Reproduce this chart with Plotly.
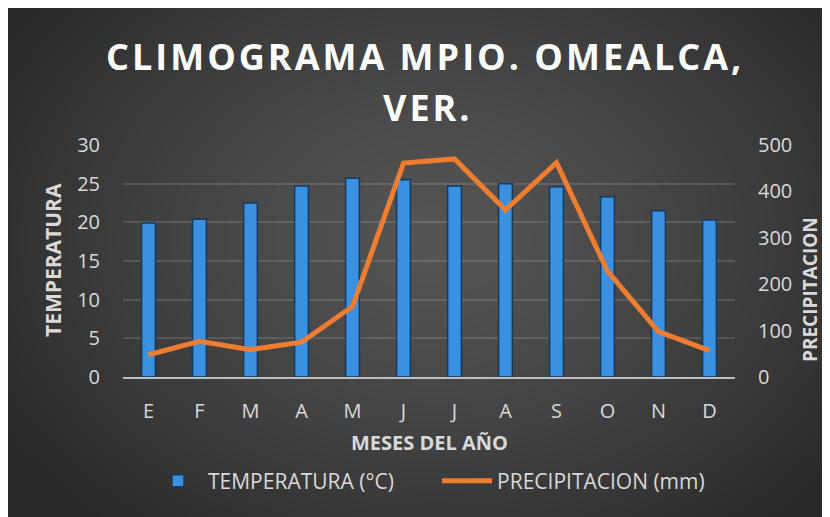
import base64, struct, zlib
import numpy as np
import plotly.graph_objects as go

meses = ["E", "F", "M", "A", "M", "J", "J", "A", "S", "O", "N", "D"]
temperatura = [19.9, 20.4, 22.5, 24.7, 25.7, 25.5, 24.7, 25.0, 24.6, 23.3, 21.5, 20.3]
precipitacion = [48, 77, 59, 75, 152, 461, 470, 360, 462, 228, 98, 57]
temp_ticks = [0, 5, 10, 15, 20, 25, 30]
prec_ticks = [0, 100, 200, 300, 400, 500]

# page has an 8px body margin; work in page coords and convert
OFF = 8
W, H = 830 - OFF, 517 - OFF
L, R, T, B = 123 - OFF, 735 - OFF, 145 - OFF, 377 - OFF


def gradient_png(w, h):
    ys, xs = np.mgrid[0:h, 0:w].astype(float)
    cx, cy = w * 0.52, h * 0.45
    r = np.sqrt(((xs - cx) / (w * 0.62)) ** 2 + ((ys - cy) / (h * 0.75)) ** 2)
    r = np.clip(r, 0, 1)
    v = 0x55 + (0x29 - 0x55) * r ** 1.3
    arr = np.stack([v, v, v], axis=-1).astype(np.uint8)
    raw = b"".join(b"\x00" + arr[i].tobytes() for i in range(h))

    def chunk(t, d):
        c = struct.pack(">I", len(d)) + t + d
        return c + struct.pack(">I", zlib.crc32(t + d) & 0xFFFFFFFF)

    png = b"\x89PNG\r\n\x1a\n" + chunk(b"IHDR", struct.pack(">IIBBBBB", w, h, 8, 2, 0, 0, 0))
    png += chunk(b"IDAT", zlib.compress(raw, 9)) + chunk(b"IEND", b"")
    return "data:image/png;base64," + base64.b64encode(png).decode()


pw, ph = R - L, B - T
img = gradient_png(411, 256)


def px(xpage):
    return (xpage - OFF - L) / pw


def py(ypage):
    return (B - (ypage - OFF)) / ph


NB = "\u00a0"
fig = go.Figure()
fig.add_trace(go.Bar(
    x=list(range(12)), y=temperatura, name="TEMPERATURA (°C)" + NB * 7,
    width=0.27,
    marker=dict(color="#3c90e0", line=dict(color="#153a60", width=1.5)),
    yaxis="y",
))
fig.add_trace(go.Scatter(
    x=list(range(12)), y=precipitacion, name="PRECIPITACION (mm)",
    mode="lines", line=dict(color="#ED7D31", width=5),
    yaxis="y2",
))

font = "Open Sans, Noto Sans, sans-serif"
title_style = "letter-spacing:3px"
fig.update_layout(
    width=W, height=H,
    margin=dict(l=L, r=W - R, t=T, b=H - B, pad=0, autoexpand=False),
    paper_bgcolor="#303030",
    plot_bgcolor="rgba(0,0,0,0)",
    font=dict(family=font, color="#d9d9d9", size=20),
    showlegend=True,
    legend=dict(orientation="h", x=px(148), xanchor="left", y=py(481), yanchor="middle",
                font=dict(size=21, color="#d9d9d9"), bgcolor="rgba(0,0,0,0)",
                itemwidth=50, tracegroupgap=0),
    xaxis=dict(
        tickmode="array", tickvals=list(range(12)), ticktext=meses,
        range=[-0.5, 11.5], showgrid=False, zeroline=False, automargin=False,
        showline=True, linecolor="#bfbfbf", linewidth=2,
        ticks="", ticklabelstandoff=15,
        tickfont=dict(size=20, color="#d9d9d9"),
    ),
    yaxis=dict(
        range=[0, 30], tickvals=temp_ticks, showgrid=True, automargin=False,
        gridcolor="rgba(255,255,255,0.13)", gridwidth=1.5, zeroline=False,
        ticks="", ticklabelstandoff=22,
        tickfont=dict(size=20, color="#d9d9d9"),
    ),
    yaxis2=dict(
        range=[0, 500], tickvals=prec_ticks, overlaying="y", side="right",
        showgrid=False, zeroline=False, ticks="", ticklabelstandoff=22, automargin=False,
        tickfont=dict(size=20, color="#d9d9d9"),
    ),
    images=[dict(
        source=img, xref="paper", yref="paper",
        x=-L / pw, y=(B) / ph, sizex=W / pw, sizey=H / ph,
        xanchor="left", yanchor="top", sizing="stretch", layer="below",
    )],
    annotations=[
        dict(text=f"<span style='{title_style}'><b>CLIMOGRAMA MPIO. OMEALCA,</b></span>",
             xref="paper", yref="paper", x=px(425), y=py(57), showarrow=False,
             xanchor="center", yanchor="middle",
             font=dict(size=36, color="white", family=font)),
        dict(text=f"<span style='{title_style}'><b>VER.</b></span>",
             xref="paper", yref="paper", x=px(428), y=py(107), showarrow=False,
             xanchor="center", yanchor="middle",
             font=dict(size=36, color="white", family=font)),
        dict(text="<b>TEMPERATURA</b>", xref="paper", yref="paper",
             x=px(53), y=py(260), showarrow=False, textangle=-90,
             xanchor="center", yanchor="middle",
             font=dict(size=21, color="#d9d9d9", family=font)),
        dict(text="<b>PRECIPITACION</b>", xref="paper", yref="paper",
             x=px(810), y=py(290), showarrow=False, textangle=-90,
             xanchor="center", yanchor="middle",
             font=dict(size=19, color="#d9d9d9", family=font)),
        dict(text="<b>MESES DEL AÑO</b>", xref="paper", yref="paper",
             x=px(429), y=py(442), showarrow=False,
             xanchor="center", yanchor="middle",
             font=dict(size=20, color="#d9d9d9", family=font)),
    ],
)

fig.write_html("out.html")
